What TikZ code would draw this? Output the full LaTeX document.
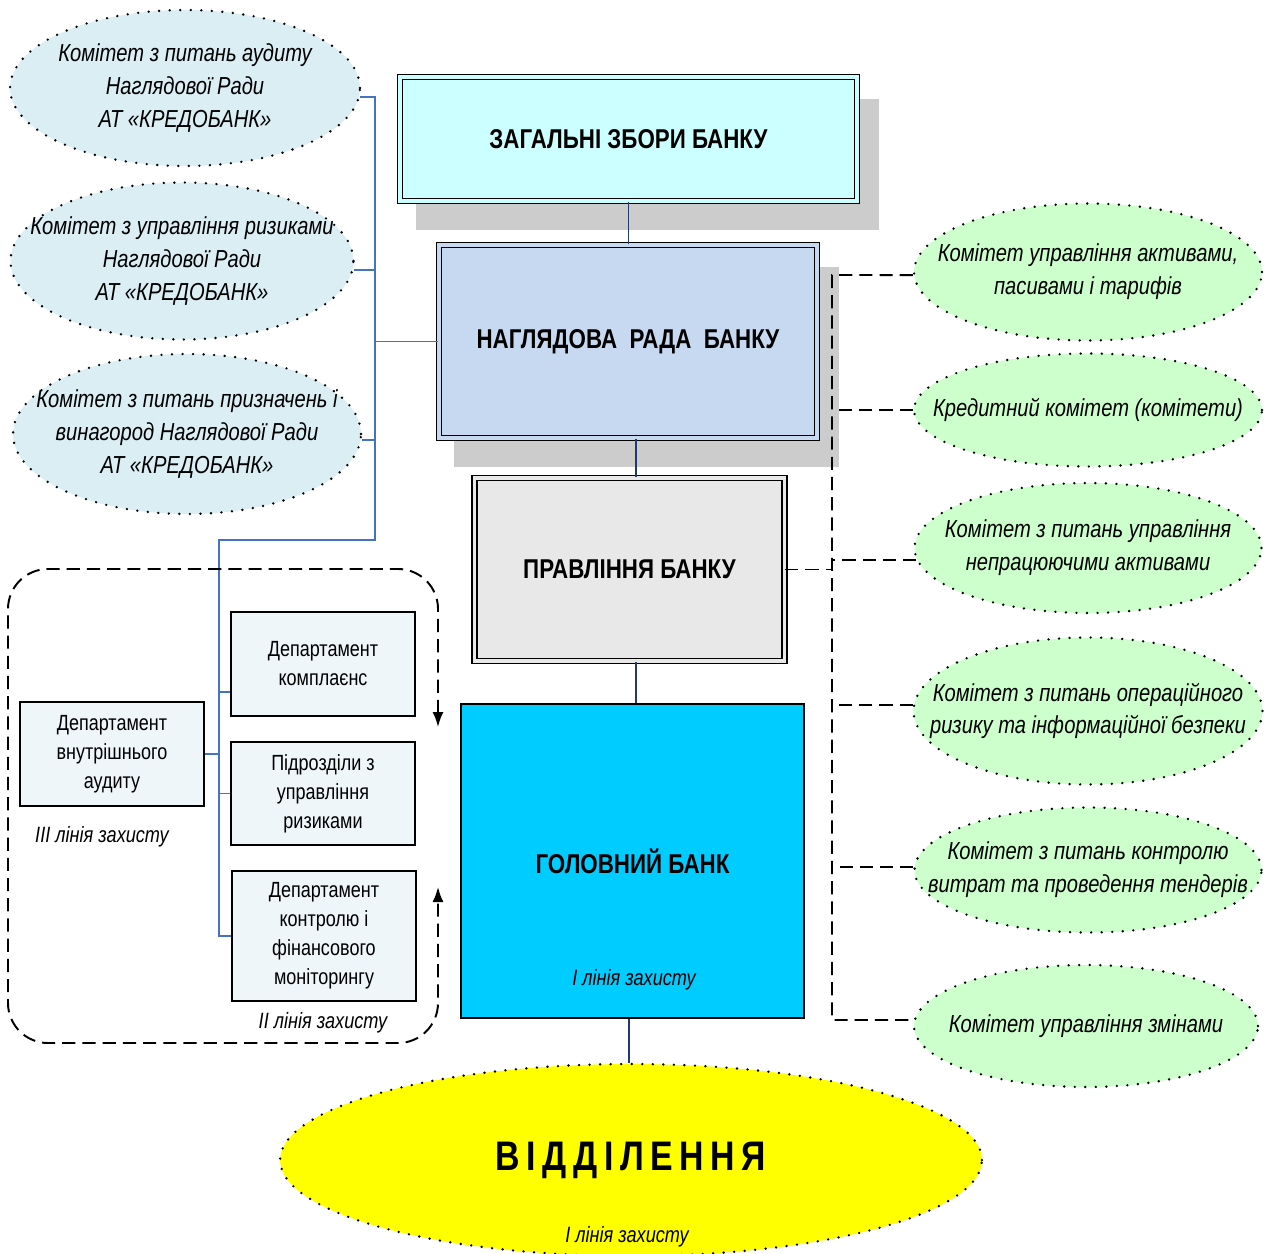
\documentclass[tikz,border=0pt]{standalone}
\usepackage{fontspec}
\setmainfont{Liberation Sans}[FakeStretch=0.82]
\usetikzlibrary{arrows.meta,shapes.geometric}
\definecolor{zborycol}{HTML}{CCFFFF}
\definecolor{naglcol}{HTML}{C6D9F0}
\definecolor{pravlcol}{HTML}{E8E8E8}
\definecolor{golovcol}{HTML}{00CCFF}
\definecolor{shadowgray}{HTML}{CCCCCC}
\definecolor{lbluecol}{HTML}{DAEEF3}
\definecolor{lgreencol}{HTML}{CCFFCC}
\definecolor{vidcol}{HTML}{FFFF00}
\definecolor{deptcol}{HTML}{EEF6F9}
\definecolor{linkblue}{HTML}{4472C4}
\definecolor{navy}{HTML}{1F3A6E}
\begin{document}
\begin{tikzpicture}[x=0.02cm,y=-0.02cm,
    dblbox/.style={rectangle,draw=black,line width=0.9pt,double distance=1.8pt,
      font=\bfseries\fontsize{15.5}{18}\selectfont},
    lcomm/.style={ellipse,fill=lbluecol,draw=black,line width=1.5pt,line cap=round,
      dash pattern=on 0pt off 6pt,inner sep=0pt},
    rcomm/.style={lcomm,fill=lgreencol},
    itx/.style={font=\itshape\fontsize{14}{18.7}\selectfont,align=center,inner sep=0pt},
    lnx/.style={font=\itshape\fontsize{12.6}{15}\selectfont,inner sep=0pt},
    dept/.style={rectangle,draw=black,line width=1.1pt,fill=deptcol,align=center,
      inner sep=0pt,minimum width=3.68cm,font=\fontsize{12.5}{16.5}\selectfont},
    blink/.style={draw=linkblue,line width=1.1pt},
    nlink/.style={draw=navy,line width=0.9pt},
    dline/.style={draw=black,line width=1.1pt,dash pattern=on 7.5pt off 4pt}]
  \useasboundingbox (0,0) rectangle (1271,1254);
  % shadows
  \fill[shadowgray] (416,99) rectangle (879,230);
  \fill[shadowgray] (454,267) rectangle (839,467);
  % main column
  \node[dblbox,fill=zborycol,double=zborycol,minimum width=9.14cm,minimum height=2.48cm]
    (zbory) at (628.5,139) {ЗАГАЛЬНІ ЗБОРИ БАНКУ};
  \node[dblbox,fill=naglcol,double=naglcol,minimum width=7.56cm,minimum height=3.86cm]
    (nagl) at (628,341.5) {НАГЛЯДОВА\ \ РАДА\ \ БАНКУ};
  \node[dblbox,fill=pravlcol,double=pravlcol,minimum width=6.2cm,minimum height=3.66cm]
    (pravl) at (629.5,569.5) {ПРАВЛІННЯ БАНКУ};
  \node[rectangle,draw=black,line width=1.1pt,fill=golovcol,minimum width=6.86cm,
    minimum height=6.28cm,font=\bfseries\fontsize{15.5}{18}\selectfont]
    (golov) at (632.5,861) {ГОЛОВНИЙ БАНК};
  \node[lnx] (golov-l) at (634,980) {І лінія захисту};
  % left committees
  \node[lcomm,minimum width=7cm,minimum height=3.12cm,
    label={[itx]center:{Комітет з питань аудиту\\Наглядової Ради\\АТ «КРЕДОБАНК»}}]
    (c1) at (185,88) {};
  \node[lcomm,minimum width=6.86cm,minimum height=3.14cm,
    label={[itx]center:{Комітет з управління ризиками\\Наглядової Ради\\АТ «КРЕДОБАНК»}}]
    (c2) at (182,261) {};
  \node[lcomm,minimum width=6.96cm,minimum height=3.2cm,
    label={[itx]center:{Комітет з питань призначень і\\винагород Наглядової Ради\\АТ «КРЕДОБАНК»}}]
    (c3) at (187,434) {};
  % right committees
  \node[rcomm,minimum width=6.96cm,minimum height=2.74cm,
    label={[itx]center:{Комітет управління активами,\\пасивами і тарифів}}]
    (g1) at (1088,272) {};
  \node[rcomm,minimum width=6.96cm,minimum height=2.26cm,
    label={[itx]center:{Кредитний комітет (комітети)}}]
    (g2) at (1088,410) {};
  \node[rcomm,minimum width=6.94cm,minimum height=2.6cm,
    label={[itx]center:{Комітет з питань управління\\непрацюючими активами}}]
    (g3) at (1088,548) {};
  \node[rcomm,minimum width=6.98cm,minimum height=2.94cm,
    label={[itx]center:{Комітет з питань операційного\\ризику та інформаційної безпеки}}]
    (g4) at (1088,711) {};
  \node[rcomm,minimum width=6.94cm,minimum height=2.5cm,
    label={[itx]center:{Комітет з питань контролю\\витрат та проведення тендерів}}]
    (g5) at (1088,870) {};
  \node[rcomm,minimum width=6.88cm,minimum height=2.44cm,
    label={[itx]center:{Комітет управління змінами}}]
    (g6) at (1086,1026) {};
  % departments
  \node[dept,minimum height=2.08cm] (kompl) at (323,664) {Департамент\\комплаєнс};
  \node[dept,minimum height=2.06cm] (pidr) at (323,793.5) {Підрозділи з\\управління\\ризиками};
  \node[dept,minimum height=2.6cm] (kontr) at (324,936) {Департамент\\контролю і\\фінансового\\моніторингу};
  \node[dept,minimum height=2.08cm] (audyt) at (112,754) {Департамент\\внутрішнього\\аудиту};
  \node[lnx] (l3) at (102,837) {III лінія захисту};
  \node[lnx] (l2) at (323,1023) {II лінія захисту};
  % branches
  \node[lcomm,fill=vidcol,minimum width=14.04cm,minimum height=3.84cm,
    font=\bfseries\fontsize{23.5}{28}\selectfont]
    (vid) at (631,1160) {\addfontfeature{LetterSpace=16}ВІДДІЛЕННЯ};
  \node[lnx] (vid-l) at (627,1237) {І лінія захисту};
  % main links
  \draw[nlink] (zbory.south) -- (zbory.south |- nagl.north);
  \draw[nlink] ([xshift=0.16cm]nagl.south) -- ([xshift=0.16cm]nagl.south |- pravl.north);
  \draw[nlink] ([xshift=0.13cm]pravl.south) -- ([xshift=0.13cm]pravl.south |- golov.north);
  \draw[nlink] ([xshift=-0.07cm]golov.south) -- ([xshift=-0.07cm]golov.south |- vid.north);
  % left bus
  \coordinate (lb) at (375,540);
  \coordinate (db) at (219,540);
  \draw[blink] (c1.-3) -| (lb) -- (db) |- (kontr.west);
  \draw[blink] (c2.-3) -- (c2.-3 -| lb);
  \draw[blink] (c3.-2) -- (c3.-2 -| lb);
  \draw[blink] (nagl.west) -- (nagl.west -| lb);
  \draw[blink] ([yshift=-0.56cm]kompl.west) -- ([yshift=-0.56cm]kompl.west -| db);
  \draw[blink] (pidr.west) -- (pidr.west -| db);
  \draw[blink] (audyt.east) -- (audyt.east -| db);
  % right bus
  \coordinate (rb1) at (832,275);
  \coordinate (rb6) at (832,1020);
  \draw[dline] (g1.181) -- (rb1) -- (rb6) -- (g6.178);
  \draw[dline] (g2.west) -- (g2.west -| rb1);
  \draw[dline] (g3.184) -- (g3.184 -| rb1);
  \draw[dline] (g4.178) -- (g4.178 -| rb1);
  \draw[dline] (g5.179) -- (g5.179 -| rb1);
  \draw[dline] (pravl.east) -- (pravl.east -| rb1);
  % lines of defence frame
  \draw[dline,rounded corners=0.8cm,{Latex[length=0.3cm,width=0.22cm]}-{Latex[length=0.3cm,width=0.22cm]}]
    (438,727) |- (8,569) |- (438,1043) -- (438,887);
\end{tikzpicture}
\end{document}
